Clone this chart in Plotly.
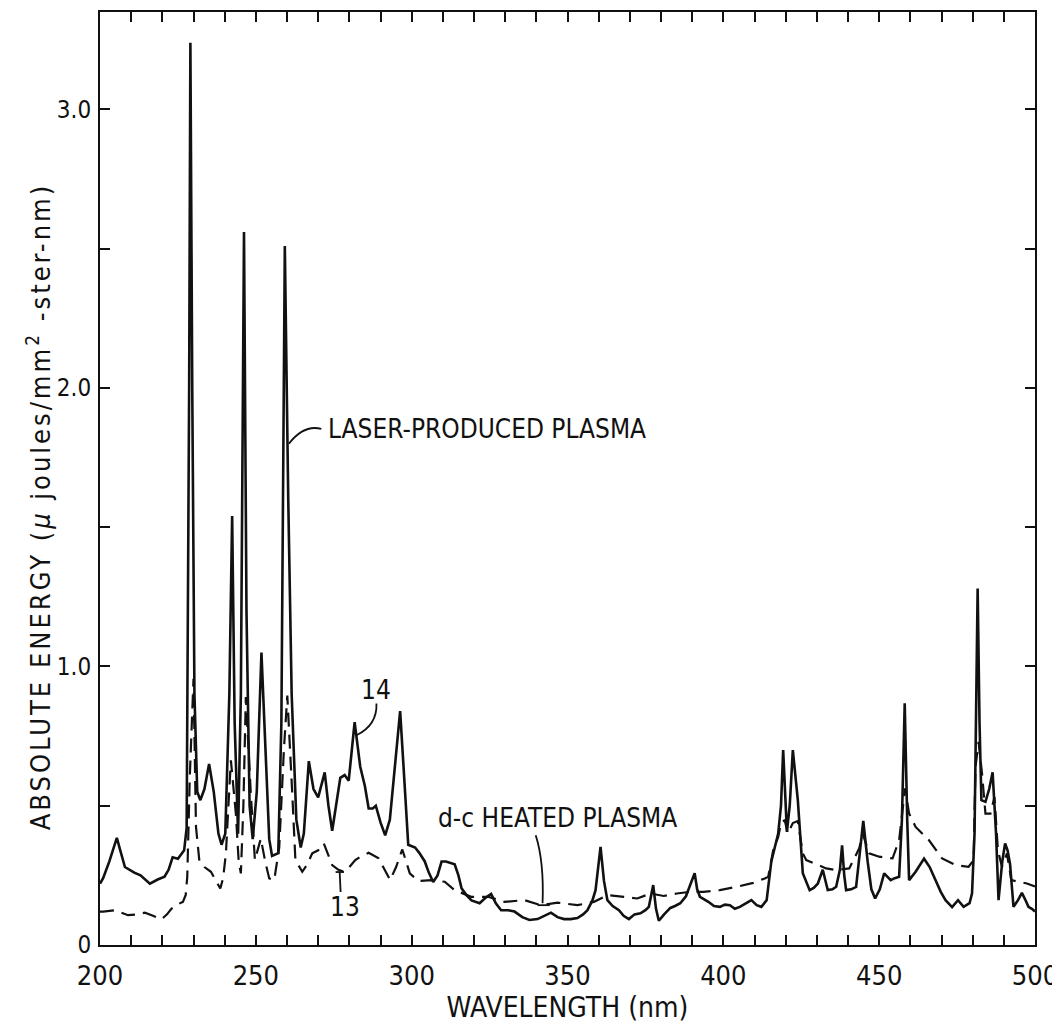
import plotly.graph_objects as go

# ---- data ----
wl_laser = [200, 201, 203, 205.4, 206.5, 208, 211, 213, 216, 218.5, 220.7, 222, 223.3, 225, 227, 227.8,
            228.6, 229.0, 229.6, 230.3, 231.2, 232.2, 233.5, 235.0, 236.5, 238.0, 239.0, 240.2, 241.5,
            242.4, 243.2, 244.3, 245.2, 246.2, 247.0, 248.0, 249.0, 250.3, 251.8, 253.0, 254.3, 255.2,
            257.2, 258.2, 259.3, 260.4, 261.5, 263.0, 264.4, 265.4, 267.0, 268.5, 270.0, 272.1, 273.3,
            274.5, 275.8, 277.1, 278.5, 279.8, 281.7, 283.5, 285.0, 286.2, 287.5, 288.5, 290.0, 291.5,
            293.0, 295.0, 296.3, 297.5, 298.9, 301.1, 302.5, 304.2, 305.5, 306.9, 308.3, 309.6, 311.0,
            313.8, 315.0, 316.0, 317.5, 319.2, 321.8, 323.8, 325.5, 327.0, 328.7, 331, 333, 335.5, 337.8,
            340.4, 342.5, 344.7, 346.8, 348.9, 351, 353.2, 355, 356.4, 358, 359, 360.6, 361.7, 362.8,
            364.5, 366.5, 368, 369.7, 371.5, 373.4, 375, 376.1, 377.5, 378.4, 379.3, 381, 383, 384.5,
            386.2, 388, 389.4, 390.8, 391.6, 392.5, 395.2, 397, 398.9, 400.5, 402.1, 403.7, 405.3, 407.2,
            409, 410.7, 412.2, 413.9, 415.4, 417.6, 418.5, 419.2, 419.9, 420.4, 421.3, 422.3, 423.9,
            425.5, 427.7, 429, 430.3, 431.9, 433.5, 435, 436.2, 437.4, 438.1, 438.8, 439.4, 441, 442.6,
            443.5, 444.9, 446.3, 447.5, 448.7, 450.2, 451.6, 453.7, 455, 456.4, 457.3, 458.2, 459.0,
            459.6, 461.7, 464.4, 466.2, 468.1, 469.8, 471.3, 473.4, 475.3, 477.1, 479, 479.8, 480.6,
            481.2, 481.6, 482.2, 482.8, 484.1, 485.3, 486.4, 487.5, 488.3, 489.5, 490.4, 491.2, 492,
            493.1, 494.5, 495.8, 497.0, 497.9, 499, 500]
en_laser = [0.22, 0.24, 0.30, 0.385, 0.34, 0.28, 0.26, 0.25, 0.22, 0.235, 0.245, 0.27, 0.315, 0.31, 0.34, 0.42,
            2.0, 3.24, 2.0, 0.9, 0.55, 0.52, 0.56, 0.65, 0.55, 0.40, 0.36, 0.40, 0.90,
            1.54, 0.8, 0.40, 0.9, 2.56, 1.2, 0.5, 0.38, 0.55, 1.05, 0.7, 0.38, 0.32,
            0.33, 0.8, 2.51, 1.6, 0.9, 0.45, 0.35, 0.40, 0.66, 0.56, 0.53, 0.62, 0.50,
            0.41, 0.50, 0.60, 0.61, 0.59, 0.80, 0.64, 0.57, 0.49, 0.49, 0.50, 0.44, 0.394,
            0.45, 0.68, 0.84, 0.62, 0.36, 0.35, 0.33, 0.30, 0.26, 0.226, 0.25, 0.30, 0.30,
            0.29, 0.25, 0.204, 0.18, 0.16, 0.15, 0.17, 0.183, 0.15, 0.125, 0.125, 0.12, 0.10, 0.09,
            0.093, 0.105, 0.116, 0.10, 0.093, 0.093, 0.097, 0.11, 0.125, 0.16, 0.197, 0.352, 0.23, 0.161,
            0.14, 0.125, 0.105, 0.093, 0.11, 0.114, 0.125, 0.137, 0.215, 0.13, 0.087, 0.11, 0.133, 0.14,
            0.15, 0.175, 0.22, 0.258, 0.2, 0.173, 0.155, 0.14, 0.137, 0.145, 0.143, 0.13, 0.137, 0.15,
            0.161, 0.143, 0.137, 0.161, 0.30, 0.40, 0.5, 0.70, 0.5, 0.406, 0.5, 0.70, 0.52,
            0.258, 0.197, 0.205, 0.22, 0.27, 0.197, 0.2, 0.209, 0.27, 0.358, 0.25, 0.197, 0.2, 0.209,
            0.30, 0.446, 0.30, 0.2, 0.167, 0.2, 0.257, 0.233, 0.24, 0.245, 0.45, 0.868, 0.45,
            0.233, 0.263, 0.31, 0.28, 0.233, 0.19, 0.161, 0.136, 0.161, 0.137, 0.15, 0.186, 0.40,
            0.9, 1.28, 0.8, 0.52, 0.514, 0.56, 0.62, 0.40, 0.161, 0.3, 0.365, 0.34, 0.29,
            0.137, 0.16, 0.187, 0.16, 0.137, 0.13, 0.12]

wl_dc = [200, 201, 204.8, 207, 209, 212, 214.4, 217, 219.7, 221.5, 222.9, 224.8, 226.6, 227.5, 228, 228.8,
         230, 230.8, 231.9, 233.5, 235.6, 237.2, 238.6, 239.5, 240.4, 241.2, 242, 243.6, 244.5, 245.2,
         246, 246.8, 247.6, 248.4, 249.7, 251.6, 253, 254.3, 255.9, 257.5, 259, 260.1, 261.7, 262.7,
         264.9, 266.5, 268.1, 270, 271.8, 274.5, 276.5, 278.2, 280, 281.9, 284, 286.2, 289.4, 291.3,
         293.1, 295, 297, 299.4, 302.1, 306.4, 310.6, 313.8, 319.1, 324.5, 329.8, 336.2, 341.5, 346.8,
         353.2, 358.5, 362.8, 368.1, 372.4, 376.6, 380.9, 385.1, 389.4, 393.6, 398.9, 404.3, 409.6,
         413.3, 414.4, 416, 417.6, 418.6, 419.7, 420.7, 422.3, 423.9, 425.5, 426.6, 430.3, 433, 436.2,
         440.4, 443.6, 444.7, 446.8, 450, 454.3, 456.4, 458.3, 459.6, 461.7, 466, 470.2, 474.5, 478.7,
         480.3, 480.9, 481.9, 483, 484.1, 485.7, 487, 488.1, 489.4, 491, 492.4, 494.7, 497.4, 500]
en_dc = [0.12, 0.12, 0.125, 0.115, 0.107, 0.11, 0.116, 0.105, 0.092, 0.11, 0.13, 0.145, 0.155, 0.18, 0.245, 0.6,
         0.956, 0.424, 0.30, 0.28, 0.263, 0.23, 0.203, 0.24, 0.329, 0.5, 0.663, 0.47, 0.3, 0.257,
         0.5, 0.89, 0.7, 0.54, 0.305, 0.382, 0.3, 0.239, 0.233, 0.35, 0.7, 0.896, 0.54, 0.305,
         0.263, 0.29, 0.329, 0.34, 0.365, 0.287, 0.27, 0.263, 0.28, 0.305, 0.32, 0.331, 0.311, 0.27,
         0.233, 0.28, 0.343, 0.257, 0.23, 0.233, 0.227, 0.197, 0.173, 0.173, 0.155, 0.161, 0.143, 0.152,
         0.143, 0.155, 0.179, 0.173, 0.167, 0.185, 0.176, 0.185, 0.191, 0.191, 0.197, 0.209, 0.223,
         0.239, 0.245, 0.34, 0.388, 0.442, 0.448, 0.40, 0.438, 0.445, 0.329, 0.305, 0.287, 0.275, 0.269,
         0.275, 0.347, 0.40, 0.329, 0.317, 0.311, 0.376, 0.562, 0.472, 0.424, 0.376, 0.311, 0.287, 0.281,
         0.305, 0.639, 0.729, 0.615, 0.472, 0.472, 0.531, 0.34, 0.281, 0.329, 0.233, 0.227, 0.221, 0.21]

# ticks: every 10 nm on x (labelled every 50), every 0.5 on y (labelled every 1.0)
x_tickvals = list(range(200, 501, 10))
x_ticktext = [str(v) if v % 50 == 0 else "" for v in x_tickvals]
y_tickvals = [0, 0.5, 1.0, 1.5, 2.0, 2.5, 3.0]
y_ticktext = ["0", "", "1.0", "", "2.0", "", "3.0"]

FONT = "DejaVu Sans Condensed, Liberation Sans Narrow, sans-serif"
INK = "#111111"

fig = go.Figure()
fig.add_trace(go.Scatter(x=wl_dc, y=en_dc, mode="lines",
                         line=dict(color=INK, width=2.2, dash="14px,8px"),
                         name="d-c heated plasma"))
fig.add_trace(go.Scatter(x=wl_laser, y=en_laser, mode="lines",
                         line=dict(color=INK, width=2.6),
                         name="laser-produced plasma"))

axis_common = dict(showgrid=False, zeroline=False, showline=True, linecolor=INK, linewidth=2,
                   mirror="ticks", ticks="inside", ticklen=10, tickwidth=1.8, tickcolor=INK,
                   ticklabeloverflow="allow")

fig.update_xaxes(range=[200, 500], tickmode="array", tickvals=x_tickvals, ticktext=x_ticktext,
                 tickfont=dict(family=FONT, size=27, color=INK), ticklabelstandoff=6,
                 title=dict(text="WAVELENGTH (nm)", font=dict(family=FONT, size=28, color=INK), standoff=0),
                 **axis_common)
fig.update_yaxes(range=[0, 3.35], tickmode="array", tickvals=y_tickvals, ticktext=y_ticktext,
                 tickfont=dict(family=FONT, size=24, color=INK), ticklabelstandoff=2,
                 **axis_common)

annot_font = dict(family=FONT, size=26, color=INK)
annotations = [
    dict(x=272.5, y=1.853, xref="x", yref="y", text="LASER-PRODUCED PLASMA", showarrow=False,
         xanchor="left", yanchor="middle", font=annot_font),
    dict(x=288.4, y=0.914, xref="x", yref="y", text="14", showarrow=False,
         xanchor="center", yanchor="middle", font=annot_font),
    dict(x=307.9, y=0.455, xref="x", yref="y", text="d-c HEATED PLASMA", showarrow=False,
         xanchor="left", yanchor="middle", font=annot_font),
    dict(x=278.5, y=0.136, xref="x", yref="y", text="13", showarrow=False,
         xanchor="center", yanchor="middle", font=annot_font),
    dict(x=-0.066, y=0.47, xref="paper", yref="paper",
         text="ABSOLUTE ENERGY (<i>μ</i> joules/mm<sup>2</sup> -ster-nm)", showarrow=False,
         textangle=-90, xanchor="center", yanchor="middle", font=dict(family=FONT, size=27, color=INK)),
]

line_style = dict(color=INK, width=1.8)
shapes = [
    dict(type="path", xref="x", yref="y", path="M 260.6,1.80 Q 265.5,1.87 271.0,1.853", line=line_style),
    dict(type="path", xref="x", yref="y", path="M 282.3,0.753 Q 289.0,0.79 288.7,0.867", line=line_style),
    dict(type="path", xref="x", yref="y", path="M 339.8,0.394 Q 342.5,0.30 342.0,0.15", line=line_style),
    dict(type="path", xref="x", yref="y", path="M 340.4,0.143 L 344.3,0.143", line=line_style),
    dict(type="path", xref="x", yref="y", path="M 276.9,0.262 L 277.2,0.19", line=line_style),
    dict(type="path", xref="x", yref="y", path="M 275.6,0.262 L 278.3,0.262", line=line_style),
]

# the page body has an 8px default margin, so the figure is 8px smaller and margins shifted
fig.update_layout(width=1052, height=1022, margin=dict(l=92, r=20, t=2, b=85),
                  paper_bgcolor="white", plot_bgcolor="white", showlegend=False,
                  annotations=annotations, shapes=shapes)

# the original hand lettering of the axis title is widely spaced
spacing_js = """
var gd = document.getElementById('{plot_id}');
gd.querySelectorAll('text.annotation-text').forEach(function (t) {
    if (t.textContent.indexOf('ABSOLUTE') === 0) { t.style.letterSpacing = '3px'; }
});
"""

fig.write_html("out.html", post_script=spacing_js)
